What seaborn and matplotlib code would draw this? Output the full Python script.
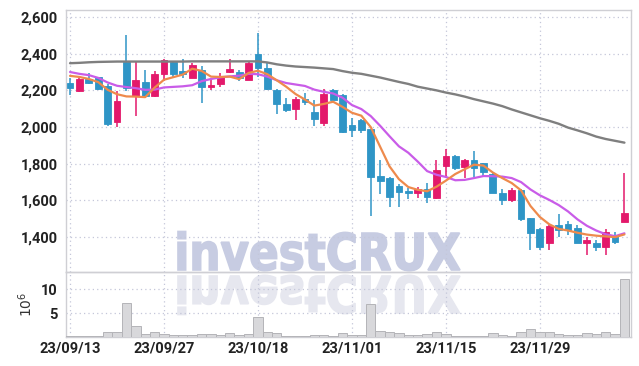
import numpy as np
import pandas as pd
import matplotlib
matplotlib.use("Agg")
import matplotlib.pyplot as plt
import seaborn as sns
from matplotlib.textpath import TextPath
from matplotlib.patches import PathPatch
from matplotlib.font_manager import FontProperties
from matplotlib.transforms import Affine2D

# trading days shown on the chart
dates = ["23/09/13", "23/09/14", "23/09/15", "23/09/18", "23/09/19", "23/09/20", "23/09/21",
         "23/09/22", "23/09/25", "23/09/26", "23/09/27", "23/10/04", "23/10/05", "23/10/06",
         "23/10/10", "23/10/11", "23/10/12", "23/10/13", "23/10/16", "23/10/17", "23/10/18",
         "23/10/19", "23/10/20", "23/10/23", "23/10/24", "23/10/25", "23/10/26", "23/10/27",
         "23/10/30", "23/10/31", "23/11/01", "23/11/02", "23/11/03", "23/11/06", "23/11/07",
         "23/11/08", "23/11/09", "23/11/10", "23/11/13", "23/11/14", "23/11/15", "23/11/16",
         "23/11/17", "23/11/20", "23/11/21", "23/11/22", "23/11/23", "23/11/24", "23/11/27",
         "23/11/28", "23/11/29", "23/11/30", "23/12/01", "23/12/04", "23/12/05", "23/12/06",
         "23/12/07", "23/12/08", "23/12/11", "23/12/12"]

opens = [2240, 2197, 2260, 2272, 2225, 2025, 2353, 2171, 2245, 2170,
         2288, 2353, 2306, 2270, 2311, 2218, 2235, 2300, 2300, 2257,
         2398, 2320, 2203, 2127, 2100, 2151, 2082, 2021, 2202, 2175,
         2012, 2040, 1988, 1733, 1722, 1680, 1654, 1639, 1662, 1612,
         1788, 1842, 1780, 1820, 1802, 1745, 1643, 1603, 1657, 1503,
         1445, 1367, 1466, 1472, 1450, 1367, 1367, 1348, 1403, 1484]
highs = [2265, 2265, 2295, 2275, 2232, 2195, 2500, 2352, 2310, 2305,
         2372, 2358, 2370, 2350, 2335, 2255, 2292, 2370, 2312, 2352,
         2515, 2355, 2208, 2160, 2165, 2187, 2148, 2208, 2205, 2178,
         2048, 2042, 1990, 1820, 1730, 1690, 1666, 1675, 1697, 1820,
         1879, 1845, 1825, 1870, 1805, 1757, 1662, 1666, 1660, 1505,
         1448, 1467, 1526, 1488, 1466, 1400, 1385, 1445, 1430, 1750]
lows = [2175, 2192, 2232, 2200, 2005, 2000, 2197, 2060, 2165, 2165,
        2250, 2275, 2265, 2268, 2130, 2200, 2220, 2295, 2250, 2255,
        2275, 2200, 2070, 2080, 2040, 2120, 2005, 2005, 2145, 1965,
        1948, 1965, 1517, 1635, 1563, 1562, 1606, 1612, 1585, 1608,
        1730, 1766, 1723, 1730, 1733, 1638, 1575, 1593, 1488, 1330,
        1330, 1330, 1400, 1412, 1367, 1303, 1327, 1303, 1365, 1484]
closes = [2215, 2262, 2238, 2205, 2015, 2142, 2211, 2257, 2170, 2288,
          2366, 2290, 2290, 2338, 2220, 2229, 2275, 2317, 2270, 2348,
          2320, 2205, 2125, 2093, 2152, 2138, 2046, 2179, 2150, 1975,
          1985, 1985, 1730, 1706, 1620, 1648, 1640, 1662, 1621, 1765,
          1842, 1776, 1820, 1775, 1756, 1642, 1603, 1657, 1499, 1421,
          1348, 1461, 1439, 1439, 1367, 1385, 1348, 1430, 1371, 1533]

# volume in millions of shares
volumes = [0.2, 0.2, 0.2, 0.3, 1.07, 1.07, 7.2, 2.2, 0.7, 1.07,
           0.7, 0.5, 0.5, 0.45, 0.7, 0.7, 0.5, 0.85, 0.4, 0.7,
           4.15, 1.07, 0.85, 0.3, 0.3, 0.3, 0.5, 0.5, 0.3, 0.85,
           0.45, 0.5, 7.0, 1.35, 1.07, 0.85, 0.45, 0.5, 0.7, 1.07,
           0.7, 0.3, 0.3, 0.3, 0.3, 0.85, 0.5, 0.3, 1.07, 1.7,
           1.07, 1.07, 0.7, 0.5, 0.5, 0.85, 0.7, 1.07, 0.6, 12.2]

# moving average lines
ma_short = [2279, 2273, 2262, 2245, 2203, 2179, 2167, 2166, 2163, 2215,
            2258, 2272, 2286, 2318, 2306, 2275, 2273, 2275, 2261, 2295,
            2307, 2288, 2255, 2220, 2180, 2150, 2117, 2126, 2138, 2110,
            2078, 2062, 2000, 1893, 1786, 1716, 1673, 1658, 1650, 1675,
            1708, 1744, 1770, 1795, 1790, 1752, 1722, 1695, 1655, 1570,
            1510, 1470, 1445, 1436, 1424, 1414, 1408, 1404, 1400, 1415]
ma_mid = [2300, 2290, 2283, 2268, 2243, 2225, 2218, 2212, 2203, 2204,
          2216, 2219, 2222, 2228, 2250, 2262, 2271, 2276, 2280, 2290,
          2288, 2275, 2255, 2240, 2232, 2224, 2204, 2192, 2183, 2160,
          2120, 2098, 2060, 2007, 1950, 1895, 1860, 1812, 1760, 1740,
          1728, 1710, 1712, 1722, 1733, 1732, 1730, 1722, 1700, 1660,
          1628, 1603, 1575, 1540, 1497, 1462, 1436, 1416, 1405, 1421]
ma_long = [2348, 2350, 2353, 2355, 2356, 2357, 2357, 2357, 2357, 2357,
           2357, 2357, 2357, 2358, 2358, 2358, 2358, 2358, 2358, 2358,
           2358, 2352, 2342, 2335, 2330, 2327, 2324, 2320, 2316, 2305,
           2296, 2290, 2280, 2270, 2258, 2246, 2235, 2220, 2210, 2200,
           2188, 2178, 2166, 2152, 2140, 2128, 2114, 2096, 2080, 2064,
           2048, 2034, 2018, 1997, 1982, 1966, 1948, 1935, 1925, 1915]

price_ticks = [1400, 1600, 1800, 2000, 2200, 2400, 2600]
volume_ticks = [5, 10]
date_tick_idx = [0, 10, 20, 30, 40, 50]

UP = "#e3196b"
DOWN = "#2f95c6"
GRID = "#c4c7d9"
SPINE = "#cfcfd4"

df = pd.DataFrame({"idx": np.arange(len(dates)), "open": opens, "high": highs,
                   "low": lows, "close": closes, "volume": volumes,
                   "ma_short": ma_short, "ma_mid": ma_mid, "ma_long": ma_long})

sns.set_theme(style="white")
plt.rcParams["font.family"] = ["Roboto", "DejaVu Sans"]

W, H = 639, 366
fig = plt.figure(figsize=(W / 100, H / 100), dpi=100)
ax = fig.add_axes([66 / W, 1 - 272 / H, (631 - 66) / W, (272 - 10) / H])
axv = fig.add_axes([66 / W, 1 - 337 / H, (631 - 66) / W, (337 - 272) / H])
for a in (ax, axv):
    a.set_facecolor("none")

# watermark and its reflection, drawn behind the panels
prop = FontProperties(family="DejaVu Sans", weight="bold")
tp = TextPath((0, 0), "investCRUX", size=100, prop=prop)
ext = tp.get_extents()
sx = (460 - 178) / ext.width
sy = 37 / 73.0
wm = Affine2D().translate(-ext.x0, 0).scale(sx, sy).translate(178, H - 270).scale(1 / W, 1 / H)
fig.add_artist(PathPatch(tp, transform=wm + fig.transFigure, facecolor="#c7cce2",
                         edgecolor="#c7cce2", lw=1.2, zorder=-2))
wm2 = Affine2D().translate(-ext.x0, 0).scale(sx, -sy).translate(178, H - 276).scale(1 / W, 1 / H)
fig.add_artist(PathPatch(tp, transform=wm2 + fig.transFigure, facecolor="#e6e7ef",
                         edgecolor="#e6e7ef", lw=1.2, zorder=-2))

# candles
for _, r in df.iterrows():
    c = UP if r["close"] >= r["open"] else DOWN
    ax.vlines(r["idx"], r["low"], r["high"], color=c, lw=1.1, zorder=3)
    lo = min(r["open"], r["close"])
    hgt = max(abs(r["close"] - r["open"]), 7)
    ax.bar(r["idx"], hgt, bottom=lo, width=0.72, color=c, edgecolor=c, lw=0.6, zorder=4)

sns.lineplot(data=df, x="idx", y="ma_long", ax=ax, color="#7f7f7f", lw=1.7, zorder=5)
sns.lineplot(data=df, x="idx", y="ma_mid", ax=ax, color="#c95ce8", lw=1.6, zorder=5)
sns.lineplot(data=df, x="idx", y="ma_short", ax=ax, color="#ee8a4c", lw=1.6, zorder=6)

ax.set_xlim(-0.43, 59.7)
ax.set_ylim(1210, 2638)
ax.set_yticks(price_ticks)
ax.set_yticklabels([f"{v:,}" for v in price_ticks])
ax.set_xticks(date_tick_idx)
ax.set_xticklabels([])
ax.set_xlabel("")
ax.set_ylabel("")

# volume panel
sns.barplot(data=df, x="idx", y="volume", ax=axv, native_scale=True, width=1.0,
            color="#d8d8db", edgecolor="#b4b4b8", linewidth=0.7, saturation=1,
            errorbar=None, zorder=3)
axv.set_xlim(-0.43, 59.7)
axv.set_ylim(0, 13.6)
axv.set_yticks(volume_ticks)
axv.set_xticks(date_tick_idx)
axv.set_xticklabels([dates[i] for i in date_tick_idx])
axv.set_xlabel("")
axv.set_ylabel("$10^6$", fontsize=10, color="#333333", labelpad=4)

for a in (ax, axv):
    a.grid(True, linestyle=(0, (1, 2.5)), color=GRID, lw=0.9)
    a.set_axisbelow(True)
    a.tick_params(length=0, labelsize=10.5, labelcolor="#222222", pad=6)
    for lab in a.get_yticklabels() + a.get_xticklabels():
        lab.set_fontweight("bold")
    for s in a.spines.values():
        s.set_color(SPINE)
        s.set_linewidth(1.0)
axv.tick_params(axis="x", pad=3)

fig.savefig("out.png", dpi=100)
